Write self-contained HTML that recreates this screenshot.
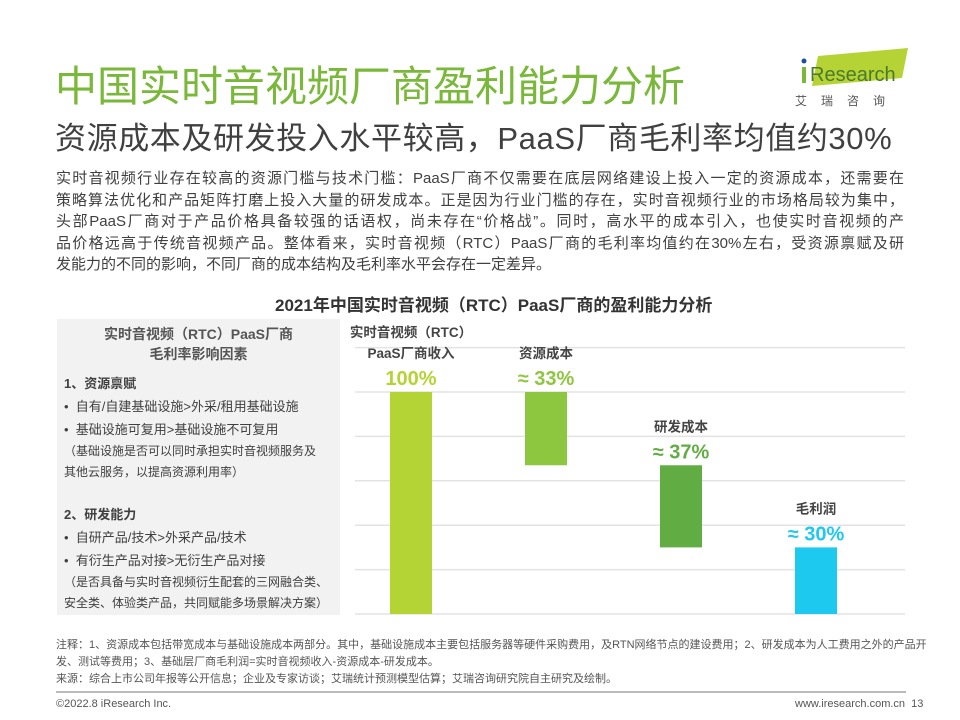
<!DOCTYPE html>
<html><head><meta charset="utf-8"><style>
body{margin:0;width:960px;height:720px;background:#fff;position:relative;overflow:hidden;font-family:"Liberation Sans","Noto Sans CJK SC",sans-serif;color:#404040}
.a{position:absolute;white-space:nowrap}
.j{text-align:justify;text-align-last:justify;width:848px;white-space:nowrap}
</style></head><body>
<div class="a" style="left:55px;top:53px;font-size:42px;color:#7ab83a">中国实时音视频厂商盈利能力分析</div>
<div class="a" style="left:55px;top:113px;font-size:31px;color:#404040;letter-spacing:0.6px">资源成本及研发投入水平较高，PaaS厂商毛利率均值约30%</div>
<svg class="a" style="left:790px;top:48px" width="125" height="62">
<polygon points="28,8 118,0 112,30 22,38" fill="#b5d334"/>
<circle cx="14" cy="13" r="2.5" fill="#1f4e9a"/>
<rect x="12" y="19" width="4" height="16" fill="#7ab83a"/>
<text x="20" y="33" font-size="20" fill="#4a7a2a" font-family="Liberation Sans,sans-serif">Research</text>
<text x="5" y="57" font-size="12" fill="#555" font-family="Noto Sans CJK SC,sans-serif" letter-spacing="14">艾瑞咨询</text>
</svg>
<div class="a" style="left:56px;top:168px;font-size:15px;line-height:21.5px;color:#404040">
<div class="j">实时音视频行业存在较高的资源门槛与技术门槛：PaaS厂商不仅需要在底层网络建设上投入一定的资源成本，还需要在</div>
<div class="j">策略算法优化和产品矩阵打磨上投入大量的研发成本。正是因为行业门槛的存在，实时音视频行业的市场格局较为集中，</div>
<div class="j">头部PaaS厂商对于产品价格具备较强的话语权，尚未存在“价格战”。同时，高水平的成本引入，也使实时音视频的产</div>
<div class="j">品价格远高于传统音视频产品。整体看来，实时音视频（RTC）PaaS厂商的毛利率均值约在30%左右，受资源禀赋及研</div>
<div>发能力的不同的影响，不同厂商的成本结构及毛利率水平会存在一定差异。</div>
</div>
<div class="a" style="left:275px;top:291px;font-size:17px;font-weight:bold;color:#333">2021年中国实时音视频（RTC）PaaS厂商的盈利能力分析</div>
<div class="a" style="left:57px;top:319px;width:283px;height:296px;background:#f2f2f2"></div>
<div class="a" style="left:57px;top:324px;width:283px;text-align:center;font-size:14px;font-weight:bold;line-height:20px;color:#555">实时音视频（RTC）PaaS厂商<br>毛利率影响因素</div>
<div class="a" style="left:64px;top:372px;font-size:13px;line-height:23px;color:#404040">
<div style="font-weight:bold">1、资源禀赋</div>
<div>•&nbsp;&nbsp;自有/自建基础设施&gt;外采/租用基础设施</div>
<div>•&nbsp;&nbsp;基础设施可复用&gt;基础设施不可复用</div>
<div style="font-size:12px;line-height:21px">（基础设施是否可以同时承担实时音视频服务及<br>其他云服务，以提高资源利用率）</div>
<div style="height:20px"></div>
<div style="font-weight:bold">2、研发能力</div>
<div>•&nbsp;&nbsp;自研产品/技术&gt;外采产品/技术</div>
<div>•&nbsp;&nbsp;有衍生产品对接&gt;无衍生产品对接</div>
<div style="font-size:12px;line-height:21px">（是否具备与实时音视频衍生配套的三网融合类、<br>安全类、体验类产品，共同赋能多场景解决方案）</div>
</div>
<svg class="a" id="chart" style="left:0;top:0" width="960" height="720"></svg>
<div class="a" style="left:56px;top:637px;font-size:11px;line-height:17px;color:#555">注释：1、资源成本包括带宽成本与基础设施成本两部分。其中，基础设施成本主要包括服务器等硬件采购费用，及RTN网络节点的建设费用；2、研发成本为人工费用之外的产品开<br>发、测试等费用；3、基础层厂商毛利润=实时音视频收入-资源成本-研发成本。<br>来源：综合上市公司年报等公开信息；企业及专家访谈；艾瑞统计预测模型估算；艾瑞咨询研究院自主研究及绘制。</div>
<div class="a" style="left:56px;top:691px;width:850px;height:2px;background:#bbb"></div>
<div class="a" style="left:56px;top:698px;font-size:11px;color:#555">©2022.8 iResearch Inc.</div>
<div class="a" style="left:795px;top:698px;font-size:11px;color:#555">www.iresearch.com.cn&nbsp;&nbsp;13</div>
<script>
const categories=["实时音视频（RTC）|PaaS厂商收入","资源成本","研发成本","毛利润"];
const values=[100,33,37,30];
const labels=["100%","≈ 33%","≈ 37%","≈ 30%"];
const colors=["#b4d334","#8dc63f","#62ad43","#1ec9f0"];
const gridTicks=[0,20,40,60,80,100,120];
const svg=document.getElementById('chart');
const NS="http://www.w3.org/2000/svg";
const y0=614,pxPer=2.22,xs=[390,525,660,795],bw=42;
function y(v){return y0-v*pxPer;}
function mk(t,a){const e=document.createElementNS(NS,t);for(const k in a)e.setAttribute(k,a[k]);svg.appendChild(e);return e;}
gridTicks.forEach(t=>{const g=mk('line',{x1:355,x2:905,y1:y(t),y2:y(t),stroke:'#e3e3e3','stroke-width':1.5});

});
let level=0;
values.forEach((v,i)=>{
 let top,bot;
 if(i===0){top=y(v);bot=y(0);level=v;}
 else if(i===values.length-1){top=y(v);bot=y(0);}
 else{top=y(level);bot=y(level-v);level-=v;}
 const r=mk('rect',{x:xs[i],y:top,width:bw,height:bot-top,fill:colors[i]});
 
 
 const cx=xs[i]+bw/2;
 const lt=mk('text',{x:cx,y:top-7,'text-anchor':'middle','font-size':20,'font-weight':'bold',fill:colors[i]});
 lt.textContent=labels[i];
 
 
 const parts=categories[i].split('|');
 parts.forEach((p,j)=>{
  const ct=mk('text',{x:cx,y:top-34-(parts.length-1-j)*21,'text-anchor':'middle','font-size':13.5,'font-weight':'bold',fill:'#444'});
  ct.textContent=p;
  
  
 });
});
</script>
</body></html>
